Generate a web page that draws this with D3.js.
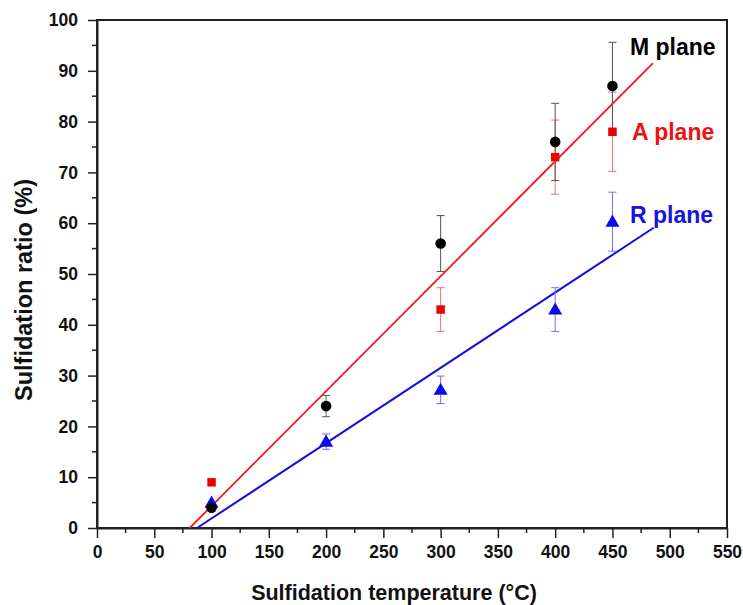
<!DOCTYPE html>
<html>
<head>
<meta charset="utf-8">
<script src="https://cdn.jsdelivr.net/npm/d3@7"></script>
<style>
  html, body { margin: 0; padding: 0; background: #fff; }
  svg { display: block; }
  text { font-family: "Liberation Sans", Arial, sans-serif; font-weight: bold; }
</style>
</head>
<body>
<script>
// ---- data ----
const temps = [100, 200, 300, 400, 450];
const mPlane = [4, 24, 56, 76, 87];
const mErr = [0, 2.1, 5.5, 7.6, 8.6];
const aPlane = [9, null, 43, 73, 78];
const aErr = [0, 0, 4.3, 7.3, 7.8];
const rPlane = [5, 17, 27.2, 43, 60.3];
const rErr = [0, 1.5, 2.7, 4.3, 5.8];
const redFit = [[80.9, 0], [485.4, 91.5]];
const blueFit = [[87.3, 0], [486, 59.1]];
const xTicks = [0, 50, 100, 150, 200, 250, 300, 350, 400, 450, 500, 550];
const yTicks = [0, 10, 20, 30, 40, 50, 60, 70, 80, 90, 100];

const W = 743, H = 605;
const m = { left: 97, right: 16, top: 20, bottom: 77 };

const svg = d3.select("body").append("svg").attr("width", W).attr("height", H);
const x = d3.scaleLinear().domain([0, 550]).range([m.left, W - m.right]);
const y = d3.scaleLinear().domain([0, 100]).range([H - m.bottom, m.top]);

// frame
svg.append("rect").attr("x", x(0)).attr("y", y(100))
  .attr("width", x(550) - x(0)).attr("height", y(0) - y(100))
  .attr("fill", "none").attr("stroke", "#222").attr("stroke-width", 2);

// axes
const xAxis = d3.axisBottom(x).tickValues(xTicks).tickSize(10).tickPadding(8).tickSizeOuter(0);
const gx = svg.append("g").attr("transform", `translate(0,${y(0)})`).call(xAxis);
const yAxis = d3.axisLeft(y).tickValues(yTicks).tickSize(9).tickPadding(10).tickSizeOuter(0);
const gy = svg.append("g").attr("transform", `translate(${x(0)},0)`).call(yAxis);
[gx, gy].forEach(g => {
  g.select(".domain").attr("stroke", "#222").attr("stroke-width", 2);
  g.selectAll(".tick line").attr("stroke", "#222").attr("stroke-width", 1.5);
  g.selectAll(".tick text").attr("fill", "#111").style("font-size", "17.5px")
    .style("font-family", "'Liberation Sans', Arial, sans-serif").style("font-weight", "bold");
});
// minor ticks
const xMinor = d3.range(25, 550, 50);
svg.append("g").selectAll("line").data(xMinor).join("line")
  .attr("x1", d => x(d)).attr("x2", d => x(d)).attr("y1", y(0)).attr("y2", y(0) + 5)
  .attr("stroke", "#222").attr("stroke-width", 1.5);
const yMinor = d3.range(5, 100, 10);
svg.append("g").selectAll("line").data(yMinor).join("line")
  .attr("y1", d => y(d)).attr("y2", d => y(d)).attr("x1", x(0)).attr("x2", x(0) - 5)
  .attr("stroke", "#222").attr("stroke-width", 1.5);

// axis titles
svg.append("text").attr("x", 394).attr("y", 600).attr("text-anchor", "middle")
  .style("font-size", "21.5px").attr("fill", "#111").text("Sulfidation temperature (°C)");
svg.append("text").attr("transform", `translate(32,290) rotate(-90)`)
  .attr("text-anchor", "middle").style("font-size", "23.5px").attr("fill", "#111")
  .text("Sulfidation ratio (%)");

// fit lines
const line = d3.line().x(d => x(d[0])).y(d => y(d[1]));
svg.append("path").attr("d", line(redFit)).attr("stroke", "#ee1c24").attr("stroke-width", 1.8).attr("fill", "none");
svg.append("path").attr("d", line(blueFit)).attr("stroke", "#1010dd").attr("stroke-width", 2).attr("fill", "none");

// error bars
function errBars(vals, errs, color) {
  const d = temps.map((t, i) => ({ t, v: vals[i], e: errs[i] })).filter(p => p.v != null && p.e > 0);
  const g = svg.append("g").attr("stroke", color).attr("stroke-width", 1);
  g.selectAll(".v").data(d).join("line")
    .attr("x1", p => x(p.t)).attr("x2", p => x(p.t))
    .attr("y1", p => y(p.v - p.e)).attr("y2", p => y(p.v + p.e));
  [-1, 1].forEach(s => {
    g.selectAll(".c" + s).data(d).join("line")
      .attr("x1", p => x(p.t) - 4).attr("x2", p => x(p.t) + 4)
      .attr("y1", p => y(p.v + s * p.e)).attr("y2", p => y(p.v + s * p.e));
  });
}
errBars(aPlane, aErr, "#f07070");
errBars(rPlane, rErr, "#7070f0");
errBars(mPlane, mErr, "#555");

// markers
const sq = d3.symbol().type(d3.symbolSquare).size(72);
const tri = d3.symbol().type(d3.symbolTriangle).size(85);
svg.append("g").selectAll("path")
  .data(temps.map((t, i) => ({ t, v: aPlane[i] })).filter(p => p.v != null))
  .join("path").attr("d", sq).attr("transform", p => `translate(${x(p.t)},${y(p.v)})`)
  .attr("fill", "#ee0000");
svg.append("g").selectAll("path")
  .data(temps.map((t, i) => ({ t, v: rPlane[i] })))
  .join("path").attr("d", tri).attr("transform", p => `translate(${x(p.t)},${y(p.v) + 1})`)
  .attr("fill", "#0a0aee");
svg.append("g").selectAll("circle")
  .data(temps.map((t, i) => ({ t, v: mPlane[i] })))
  .join("circle").attr("cx", p => x(p.t)).attr("cy", p => y(p.v)).attr("r", 5.3)
  .attr("fill", "#000");

// labels
svg.append("text").attr("x", 630).attr("y", 55).style("font-size", "23px").attr("fill", "#000").text("M plane");
svg.append("text").attr("x", 632).attr("y", 140).style("font-size", "23px").attr("fill", "#ee1111").text("A plane");
svg.append("text").attr("x", 630).attr("y", 223).style("font-size", "23px").attr("fill", "#1515dd").text("R plane");
</script>
</body>
</html>
